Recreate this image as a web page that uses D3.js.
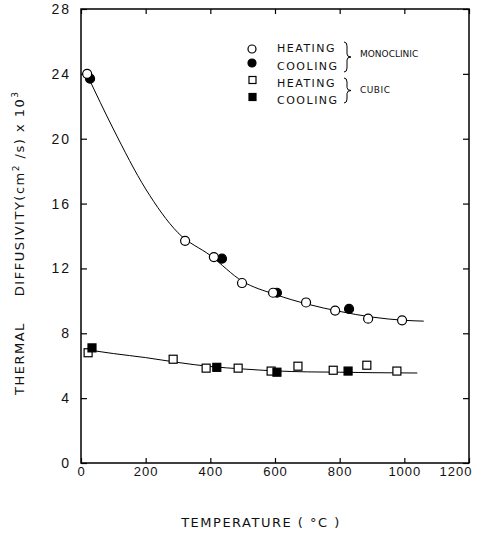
<!DOCTYPE html>
<html>
<head>
<meta charset="utf-8">
<script src="https://cdn.jsdelivr.net/npm/d3@7"></script>
<style>
  body { margin: 0; background: #fff; }
  svg { font-family: "DejaVu Sans", sans-serif; }
</style>
</head>
<body>
<div id="chart"></div>
<script>
// datos (T en °C, difusividad en cm2/s x10^3)
const monoHeatT = [19, 322, 411, 498, 594, 696, 786, 888, 993];
const monoHeatD = [24.0, 13.7, 12.7, 11.1, 10.5, 9.9, 9.4, 8.9, 8.8];
const monoCoolT = [28, 436, 606, 829];
const monoCoolD = [23.7, 12.6, 10.5, 9.5];
const cubicHeatT = [22, 285, 387, 486, 588, 671, 780, 884, 977];
const cubicHeatD = [6.8, 6.4, 5.85, 5.85, 5.67, 5.97, 5.72, 6.03, 5.67];
const cubicCoolT = [34, 420, 606, 826];
const cubicCoolD = [7.1, 5.9, 5.6, 5.67];

// curvas de ajuste
const monoFitT = [20, 100, 200, 300, 400, 500, 600, 700, 800, 900, 1000, 1060];
const monoFitD = [23.9, 20.6, 16.9, 14.2, 12.8, 11.2, 10.4, 9.8, 9.35, 9.0, 8.8, 8.75];
const cubicFitT = [30, 100, 200, 300, 400, 500, 600, 700, 800, 900, 1040];
const cubicFitD = [6.95, 6.75, 6.5, 6.2, 5.95, 5.8, 5.68, 5.62, 5.6, 5.57, 5.55];

const xTicks = [0, 200, 400, 600, 800, 1000, 1200];
const yTicks = [0, 4, 8, 12, 16, 20, 24, 28];

const width = 477, height = 537;
const margin = { left: 81, right: 8, top: 9, bottom: 74 };

const svg = d3.select('#chart').append('svg')
  .attr('width', width)
  .attr('height', height);

const x = d3.scaleLinear().domain([0, 1200]).range([margin.left, width - margin.right]);
const y = d3.scaleLinear().domain([0, 28]).range([height - margin.bottom, margin.top]);

const zip = (a, b) => a.map((v, i) => [v, b[i]]);

// ejes
const axisStyle = g => {
  g.select('.domain').remove();
  g.selectAll('.tick line').attr('stroke', '#000').attr('stroke-width', 1.2);
  g.selectAll('.tick text').attr('fill', '#111');
};

const xAxisG = svg.append('g')
  .attr('transform', `translate(0,${y(0)})`)
  .call(d3.axisBottom(x).tickValues(xTicks).tickSize(-5).tickPadding(4).tickFormat(d3.format('d')))
  .call(axisStyle);
xAxisG.selectAll('text').attr('font-size', 13).attr('letter-spacing', 1);
// la última etiqueta queda pegada al borde derecho
xAxisG.selectAll('text').filter(d => d === 1200).attr('text-anchor', 'end').attr('dx', 3);

svg.append('g')
  .attr('transform', `translate(0,${y(28)})`)
  .call(d3.axisTop(x).tickValues(xTicks).tickSize(-5).tickFormat(''))
  .call(axisStyle);

svg.append('g')
  .attr('transform', `translate(${x(0)},0)`)
  .call(d3.axisLeft(y).tickValues(yTicks).tickSize(-6).tickPadding(10))
  .call(axisStyle)
  .selectAll('text').attr('font-size', 14).attr('letter-spacing', 2);

svg.append('g')
  .attr('transform', `translate(${x(1200)},0)`)
  .call(d3.axisRight(y).tickValues(yTicks).tickSize(-6).tickFormat(''))
  .call(axisStyle);

svg.append('rect')
  .attr('x', x(0)).attr('y', y(28))
  .attr('width', x(1200) - x(0)).attr('height', y(0) - y(28))
  .attr('fill', 'none').attr('stroke', '#000').attr('stroke-width', 1.5);

// curvas
const line = d3.line().x(d => x(d[0])).y(d => y(d[1])).curve(d3.curveMonotoneX);

svg.append('path').datum(zip(monoFitT, monoFitD))
  .attr('fill', 'none').attr('stroke', '#000').attr('stroke-width', 1).attr('d', line);
svg.append('path').datum(zip(cubicFitT, cubicFitD))
  .attr('fill', 'none').attr('stroke', '#000').attr('stroke-width', 1).attr('d', line);

// marcadores
const r = 4.5, s = 8;
function circles(data, filled) {
  svg.append('g').selectAll('circle').data(data).join('circle')
    .attr('cx', d => x(d[0])).attr('cy', d => y(d[1])).attr('r', r)
    .attr('fill', filled ? '#000' : '#fff')
    .attr('stroke', '#000').attr('stroke-width', 1.2);
}
function squares(data, filled) {
  svg.append('g').selectAll('rect').data(data).join('rect')
    .attr('x', d => x(d[0]) - s / 2).attr('y', d => y(d[1]) - s / 2)
    .attr('width', s).attr('height', s)
    .attr('fill', filled ? '#000' : '#fff')
    .attr('stroke', '#000').attr('stroke-width', 1.2);
}
circles(zip(monoCoolT, monoCoolD), true);
circles(zip(monoHeatT, monoHeatD), false);
squares(zip(cubicHeatT, cubicHeatD), false);
squares(zip(cubicCoolT, cubicCoolD), true);

// leyenda
const leg = svg.append('g');
const legRows = [
  { label: 'HEATING', shape: 'circle', filled: false, my: 49, ty: 48 },
  { label: 'COOLING', shape: 'circle', filled: true, my: 63, ty: 66 },
  { label: 'HEATING', shape: 'square', filled: false, my: 80, ty: 83 },
  { label: 'COOLING', shape: 'square', filled: true, my: 97, ty: 100 }
];
legRows.forEach(row => {
  if (row.shape === 'circle') {
    leg.append('circle').attr('cx', 252).attr('cy', row.my).attr('r', 4)
      .attr('fill', row.filled ? '#000' : '#fff').attr('stroke', '#000').attr('stroke-width', 1.2);
  } else {
    leg.append('rect').attr('x', 249).attr('y', row.my - 3.5).attr('width', 7).attr('height', 7)
      .attr('fill', row.filled ? '#000' : '#fff').attr('stroke', '#000').attr('stroke-width', 1.2);
  }
  leg.append('text').attr('x', 277).attr('y', row.ty).attr('dy', '0.35em')
    .attr('font-size', 11).attr('letter-spacing', 1.5).attr('fill', '#111')
    .text(row.label);
});

function brace(bx, y1, y2) {
  const m = (y1 + y2) / 2;
  return `M${bx},${y1} Q${bx + 3},${y1} ${bx + 3},${y1 + 4} L${bx + 3},${m - 3} Q${bx + 3},${m} ${bx + 7},${m}` +
         ` Q${bx + 3},${m} ${bx + 3},${m + 3} L${bx + 3},${y2 - 4} Q${bx + 3},${y2} ${bx},${y2}`;
}
leg.append('path').attr('d', brace(344, 42, 72)).attr('fill', 'none').attr('stroke', '#000').attr('stroke-width', 1);
leg.append('path').attr('d', brace(344, 78, 103)).attr('fill', 'none').attr('stroke', '#000').attr('stroke-width', 1);
leg.append('text').attr('x', 360).attr('y', 54).attr('dy', '0.35em')
  .attr('font-size', 9).attr('fill', '#111').text('MONOCLINIC');
leg.append('text').attr('x', 360).attr('y', 90).attr('dy', '0.35em')
  .attr('font-size', 9).attr('letter-spacing', 0.5).attr('fill', '#111').text('CUBIC');

// títulos de ejes
svg.append('text')
  .attr('x', x(600) - 14).attr('y', 522).attr('dy', '0.35em')
  .attr('text-anchor', 'middle').attr('font-size', 13).attr('letter-spacing', 1.5)
  .attr('fill', '#111').text('TEMPERATURE ( °C )');

const yTitle = svg.append('text')
  .attr('transform', 'translate(19,395) rotate(-90)')
  .attr('dy', '0.35em')
  .attr('font-size', 13).attr('letter-spacing', 1.5).attr('fill', '#111');
yTitle.append('tspan').text('THERMAL');
yTitle.append('tspan').attr('dx', 26).text('DIFFUSIVITY(cm');
yTitle.append('tspan').attr('dy', -5).attr('font-size', 9).text('2');
yTitle.append('tspan').attr('dy', 5).text(' /s) x 10');
yTitle.append('tspan').attr('dy', -6).attr('font-size', 9).text('3');
</script>
</body>
</html>
